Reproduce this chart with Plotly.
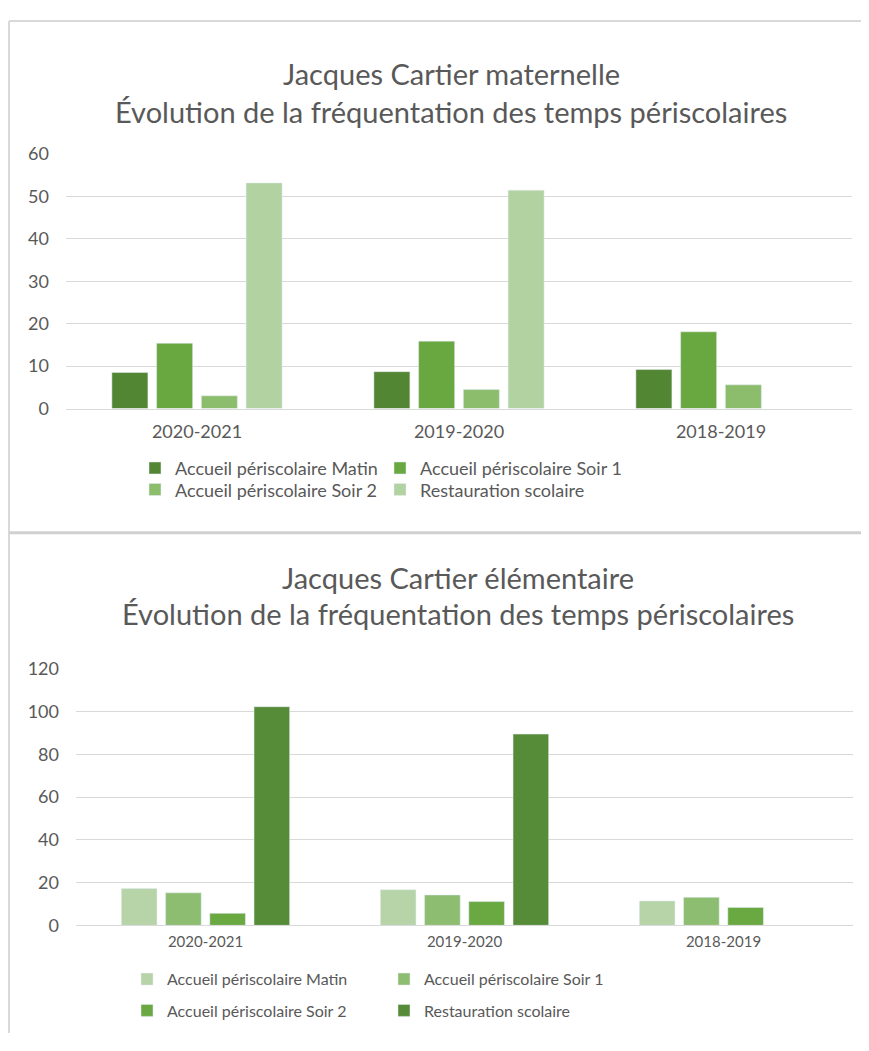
import plotly.graph_objects as go

# la page html garde une marge de 8 px autour du graphique
MARGE = 8
W, H = 869 - 2 * MARGE, 1051 - 2 * MARGE

periodes = ['2020-2021', '2019-2020', '2018-2019']
series = ['Accueil périscolaire Matin', 'Accueil périscolaire Soir 1',
          'Accueil périscolaire Soir 2', 'Restauration scolaire']

# maternelle
mat_matin = [8.5, 8.7, 9.2]
mat_soir1 = [15.4, 15.9, 18.1]
mat_soir2 = [3.0, 4.5, 5.6]
mat_resto = [53.2, 51.5, None]

# élémentaire
elem_matin = [17.2, 16.7, 11.4]
elem_soir1 = [15.2, 14.2, 13.1]
elem_soir2 = [5.6, 11.1, 8.4]
elem_resto = [102.3, 89.5, None]

mat_colors = ['#528633', '#69a740', '#8cbd6d', '#b3d2a2']
elem_colors = ['#b6d4a7', '#8dbd70', '#6aa842', '#568b37']

FONT = 'Lato'
GREY = '#595959'
GRID = '#d9d9d9'


def px_x(v):
    # position en pixels de la page -> fraction du papier
    return (v - MARGE) / W


def px_y(v):
    return 1 - (v - MARGE) / H


fig = go.Figure()

for i, (name, vals) in enumerate(zip(series, [mat_matin, mat_soir1, mat_soir2, mat_resto])):
    fig.add_trace(go.Bar(x=periodes, y=vals, name=name, marker_color=mat_colors[i],
                         xaxis='x', yaxis='y',
                         legend='legend' if i < 2 else 'legend2'))

for i, (name, vals) in enumerate(zip(series, [elem_matin, elem_soir1, elem_soir2, elem_resto])):
    fig.add_trace(go.Bar(x=periodes, y=vals, name=name, marker_color=elem_colors[i],
                         xaxis='x2', yaxis='y2',
                         legend='legend3' if i < 2 else 'legend4'))

yaxis_common = dict(showgrid=True, gridcolor=GRID, gridwidth=1, zeroline=False,
                    tickfont=dict(family=FONT, size=18, color=GREY),
                    ticklabelstandoff=16, fixedrange=True)
xaxis_common = dict(showgrid=False, showline=True, linecolor=GRID, linewidth=1,
                    ticks='', fixedrange=True)

leg_common = dict(orientation='h', xanchor='left', yanchor='middle',
                  bgcolor='rgba(0,0,0,0)', traceorder='normal',
                  itemclick=False, itemwidth=30)

fig.update_layout(
    width=W, height=H,
    margin=dict(l=0, r=0, t=0, b=0),
    paper_bgcolor='white', plot_bgcolor='white',
    barmode='group', bargap=0.317, bargroupgap=0.195,
    font=dict(family=FONT, color=GREY),
    xaxis=dict(domain=[px_x(66), px_x(852)], anchor='y',
               tickfont=dict(family=FONT, size=18, color=GREY),
               ticklabelstandoff=7, **xaxis_common),
    yaxis=dict(domain=[px_y(405), px_y(145)], anchor='x', range=[0, 60],
               dtick=10, **yaxis_common),
    xaxis2=dict(domain=[px_x(76), px_x(853)], anchor='y2',
                tickfont=dict(family=FONT, size=15, color=GREY),
                ticklabelstandoff=3, **xaxis_common),
    yaxis2=dict(domain=[px_y(933), px_y(671)], anchor='x2', range=[0, 120],
                dtick=20, **yaxis_common),
    legend=dict(x=px_x(135), y=px_y(466), entrywidth=200,
                font=dict(family=FONT, size=18, color=GREY), **leg_common),
    legend2=dict(x=px_x(135), y=px_y(488), entrywidth=200,
                 font=dict(family=FONT, size=18, color=GREY), **leg_common),
    legend3=dict(x=px_x(127), y=px_y(988), entrywidth=212,
                 font=dict(family=FONT, size=16, color=GREY), **leg_common),
    legend4=dict(x=px_x(127), y=px_y(1020), entrywidth=212,
                 font=dict(family=FONT, size=16, color=GREY), **leg_common),
)

titles = [
    ('Jacques Cartier maternelle', 451, 63),
    ('Évolution de la fréquentation des temps périscolaires', 451, 101),
    ('Jacques Cartier élémentaire', 458, 578),
    ('Évolution de la fréquentation des temps périscolaires', 458, 614),
]
for text, cx, cy in titles:
    fig.add_annotation(text=text, x=px_x(cx), y=px_y(cy), xref='paper', yref='paper',
                       xanchor='center', yanchor='middle', showarrow=False,
                       font=dict(family=FONT, size=29, color=GREY))

# cadres des graphiques
border = dict(color=GRID, width=2)
fig.add_shape(type='line', xref='paper', yref='paper', x0=px_x(9), x1=1,
              y0=px_y(9), y1=px_y(9), line=border)
fig.add_shape(type='line', xref='paper', yref='paper', x0=px_x(9), x1=px_x(9),
              y0=px_y(9), y1=0, line=border)
fig.add_shape(type='line', xref='paper', yref='paper', x0=px_x(9), x1=1,
              y0=px_y(532), y1=px_y(532), line=dict(color='#d0d0d0', width=3))

fig.write_html('out.html')
